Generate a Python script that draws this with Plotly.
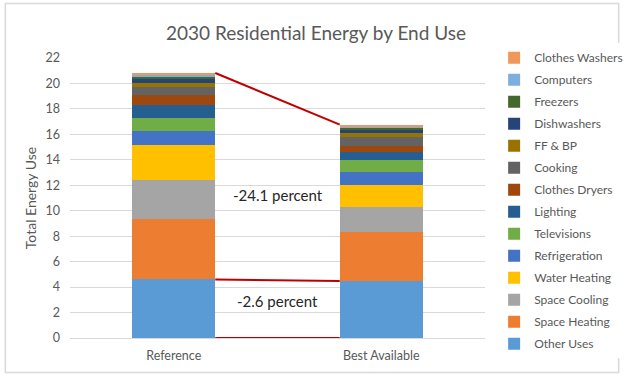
import plotly.graph_objects as go

categories = ["Reference", "Best Available"]
end_uses = ["Other Uses", "Space Heating", "Space Cooling", "Water Heating", "Refrigeration",
            "Televisions", "Lighting", "Clothes Dryers", "Cooking", "FF & BP",
            "Dishwashers", "Freezers", "Computers", "Clothes Washers"]
reference_vals = [4.60, 4.72, 3.10, 2.75, 1.11, 0.99, 1.05, 0.76, 0.63, 0.35, 0.29, 0.15, 0.19, 0.13]
best_vals = [4.48, 3.87, 1.94, 1.71, 1.02, 0.97, 0.63, 0.50, 0.66, 0.34, 0.21, 0.16, 0.16, 0.12]
colors = ["#5B9BD5", "#ED7D31", "#A5A5A5", "#FFC000", "#4472C4", "#70AD47", "#255E91",
          "#9E480E", "#636363", "#997300", "#264478", "#43682B", "#7CAFDD", "#F1975A"]
annotations_text = ["-24.1 percent", "-2.6 percent"]
y_ticks = list(range(0, 23, 2))

FONT = "Lato"
GRAY = "#595959"
xpos = [0, 1]
bw = 0.4

fig = go.Figure()
for i, name in enumerate(end_uses):
    fig.add_trace(go.Bar(x=xpos, y=[reference_vals[i], best_vals[i]], name=name,
                         marker=dict(color=colors[i], line=dict(width=0)),
                         width=bw, legendgroup=name, legendrank=1000 - i))

ref_total = sum(reference_vals)
best_total = sum(best_vals)
lines = [
    (ref_total, best_total),
    (reference_vals[0], best_vals[0]),
    (0, 0),
]
for y0, y1 in lines:
    fig.add_trace(go.Scatter(x=[xpos[0] + bw / 2, xpos[1] - bw / 2], y=[y0, y1], mode="lines",
                             line=dict(color="#C00000", width=2), showlegend=False,
                             hoverinfo="skip"))

fig.add_annotation(x=0.5, y=11.2, text=annotations_text[0], showarrow=False,
                   font=dict(family=FONT, size=15, color="#262626"))
fig.add_annotation(x=0.5, y=2.9, text=annotations_text[1], showarrow=False,
                   font=dict(family=FONT, size=15, color="#262626"))

W, H = 640, 378
ml, mr, mt, mb = 70, 143, 58, 40
pw, ph = W - ml - mr, H - mt - mb
bx0, bx1, by0, by1 = 3.5, 634.5, 3.5, 372.5  # border in pixels
fig.add_shape(type="rect", xref="paper", yref="paper",
              x0=(bx0 - ml) / pw, x1=(bx1 - ml) / pw,
              y0=(H - mb - by1) / ph, y1=(H - mb - by0) / ph,
              line=dict(color="#D9D9D9", width=1.5), layer="below")

fig.update_layout(
    width=W, height=H,
    margin=dict(l=ml, r=mr, t=mt, b=mb),
    barmode="stack",
    plot_bgcolor="white", paper_bgcolor="white",
    font=dict(family=FONT, color=GRAY, size=12),
    title=dict(text="2030 Residential Energy by End Use", x=316 / W, xanchor="center",
               y=1 - 33 / H, yanchor="middle", xref="container", yref="container",
               font=dict(family=FONT, size=19, color=GRAY)),
    xaxis=dict(range=[-0.5, 1.5], tickvals=xpos, ticktext=categories, showgrid=False,
               zeroline=False, showline=True, linecolor="#D9D9D9",
               tickfont=dict(size=12.5, color=GRAY), ticklabelstandoff=6),
    yaxis=dict(range=[0, 22], tickvals=y_ticks, showgrid=True, gridcolor="#D9D9D9",
               zeroline=False, tickfont=dict(size=12.5, color=GRAY), ticks="",
               ticklabelstandoff=9,
               title=dict(text="Total Energy Use", font=dict(size=14, color=GRAY), standoff=5)),
    legend=dict(traceorder="grouped", tracegroupgap=3.0, x=1.022, xanchor="left",
                y=1.0526, yanchor="top", font=dict(size=12, color=GRAY),
                itemwidth=30, maxheight=370),
    showlegend=True,
)

fig.write_html("out.html", config={"displayModeBar": False},
               post_script="document.body.style.margin='0';")
